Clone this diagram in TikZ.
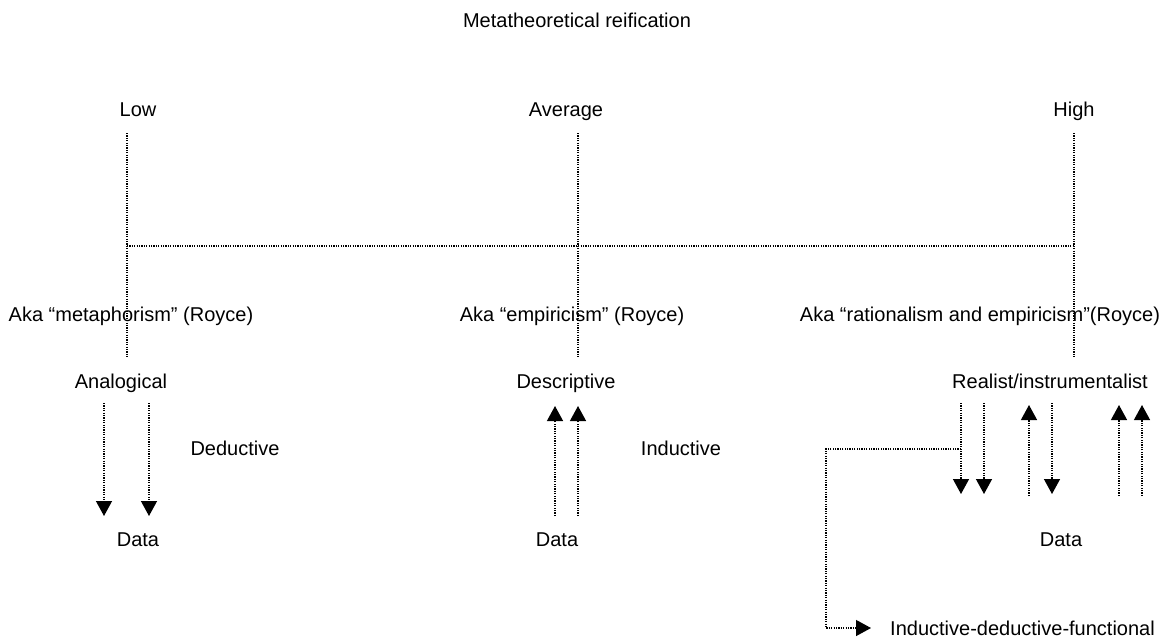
\documentclass[tikz,border=0pt]{standalone}
\usepackage{fontspec}
\setmainfont{Liberation Sans}
\usetikzlibrary{arrows.meta}
\begin{document}
\begin{tikzpicture}[x=1pt,y=-1pt,
  lbl/.style={inner sep=0pt,anchor=base,font=\fontsize{20}{24}\selectfont},
  dotline/.style={line width=1.3pt,dash pattern=on 1.2pt off 1.2pt},
  flow/.style={dotline,-{Triangle[width=16pt,length=15pt]}}]
\useasboundingbox (0,0) rectangle (1170,641);

% headings
\node[lbl] (title) at (577,27) {Metatheoretical reification};
\node[lbl] (low) at (138,116) {Low};
\node[lbl] (avg) at (566,116) {Average};
\node[lbl] (high) at (1074,116) {High};

% reification scale
\coordinate (lowTop) at (127,133);  \coordinate (lowBot) at (127,357);
\coordinate (avgTop) at (578,133);  \coordinate (avgBot) at (578,357);
\coordinate (highTop) at (1074,133); \coordinate (highBot) at (1074,357);
\coordinate (axisL) at (127,246);   \coordinate (axisR) at (1074,246);
\draw[dotline] (lowTop) -- (lowBot);
\draw[dotline] (avgTop) -- (avgBot);
\draw[dotline] (highTop) -- (highBot);
\draw[dotline] (axisL) -- (axisR);

% Royce's names
\node[lbl] (aka1) at (131,321) {Aka “metaphorism” (Royce)};
\node[lbl] (aka2) at (572,321) {Aka “empiricism” (Royce)};
\node[lbl] (aka3) at (980,321) {Aka “rationalism and empiricism”(Royce)};

% kinds of theory
\node[lbl] (analog) at (121,388) {Analogical};
\node[lbl] (descr) at (566,388) {Descriptive};
\node[lbl] (real) at (1050,388) {Realist/instrumentalist};

% modes of reasoning
\node[lbl] (ded) at (235,455) {Deductive};
\node[lbl] (ind) at (681,455) {Inductive};

\node[lbl] (dataL) at (138,546) {Data};
\node[lbl] (dataM) at (557,546) {Data};
\node[lbl] (dataR) at (1061,546) {Data};

\node[lbl,anchor=base west] (idf) at (890,635) {Inductive-deductive-functional};

% deductive: theory down to data
\coordinate (d1s) at (104,403); \coordinate (d1e) at (104,516);
\coordinate (d2s) at (149,403); \coordinate (d2e) at (149,516);
\draw[flow] (d1s) -- (d1e);
\draw[flow] (d2s) -- (d2e);

% inductive: data up to theory
\coordinate (i1s) at (555,516); \coordinate (i1e) at (555,406);
\coordinate (i2s) at (578,516); \coordinate (i2e) at (578,406);
\draw[flow] (i1s) -- (i1e);
\draw[flow] (i2s) -- (i2e);

% inductive-deductive-functional cycle
\coordinate (r1s) at (961,403);  \coordinate (r1e) at (961,494);
\coordinate (r2s) at (984,403);  \coordinate (r2e) at (984,494);
\coordinate (r3s) at (1029,496); \coordinate (r3e) at (1029,405);
\coordinate (r4s) at (1052,403); \coordinate (r4e) at (1052,494);
\coordinate (r5s) at (1119,496); \coordinate (r5e) at (1119,405);
\coordinate (r6s) at (1142,496); \coordinate (r6e) at (1142,405);
\draw[flow] (r1s) -- (r1e);
\draw[flow] (r2s) -- (r2e);
\draw[flow] (r3s) -- (r3e);
\draw[flow] (r4s) -- (r4e);
\draw[flow] (r5s) -- (r5e);
\draw[flow] (r6s) -- (r6e);

% bracket leading to the label
\coordinate (brk) at (961,449);
\coordinate (brkTip) at (871,628);
\draw[flow] (brk) -- (826,449) |- (brkTip);
\end{tikzpicture}
\end{document}
